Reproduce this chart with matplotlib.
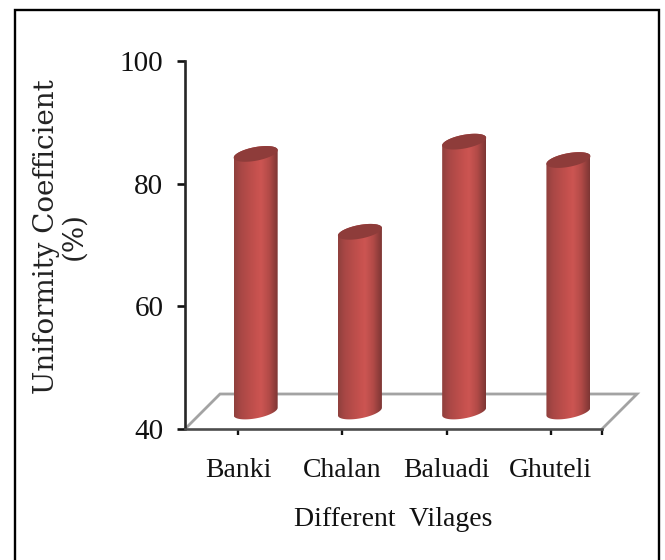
import numpy as np
import matplotlib
matplotlib.use("Agg")
import matplotlib.pyplot as plt
from matplotlib.colors import LinearSegmentedColormap
from matplotlib.patches import Polygon, Rectangle

villages = ["Banki", "Chalan", "Baluadi", "Ghuteli"]
uniformity = [82, 69.3, 84, 81]
y_ticks = [40, 60, 80, 100]

plt.rcParams["font.family"] = ["Liberation Serif", "DejaVu Serif"]

W, H = 665, 560
fig = plt.figure(figsize=(W / 100, H / 100), dpi=100, facecolor="white")
ax = fig.add_axes([185 / W, 1 - 429 / H, 417 / W, 368 / H])
ax.set_facecolor("none")

x_min, x_max = -0.51, 3.49
y_min, y_max = 40, 100
ax.set_xlim(x_min, x_max)
ax.set_ylim(y_min, y_max)
ax.autoscale(False)

# Pixel scale of the axes, used to keep the cylinders round on screen
px_x = 417 / (x_max - x_min)
px_y = 368 / (y_max - y_min)
depth_x = 17.5 / px_x
depth_y = 17.5 / px_y
half_w = 22 / px_x
ell_b = 6.9 / px_y
ell_tilt = 3.8 / px_y

shade = LinearSegmentedColormap.from_list(
    "cyl", [(0, "#8f403d"), (0.15, "#a84745"), (0.5, "#c6514e"), (0.62, "#cc5552"),
            (0.8, "#b34b48"), (1, "#7d3634")])
ramp = np.linspace(0, 1, 128).reshape(1, -1)


def ellipse_pts(cx, cy, t):
    return np.column_stack([cx + half_w * np.cos(t), cy + ell_b * np.sin(t) + ell_tilt * np.cos(t)])


def draw_cylinder(pos, value):
    cx = pos + depth_x
    base = y_min + depth_y
    top = value + depth_y
    lower = ellipse_pts(cx, base, np.linspace(np.pi, 2 * np.pi, 60))
    upper = ellipse_pts(cx, top, np.linspace(0, np.pi, 60))
    body = Polygon(np.vstack([lower, upper]), closed=True, transform=ax.transData, fc="none", ec="none")
    ax.add_patch(body)
    im = ax.imshow(ramp, cmap=shade, aspect="auto", interpolation="bilinear", zorder=3,
                   extent=[cx - half_w, cx + half_w, base - 2 * ell_b, top + 2 * ell_b])
    im.set_clip_path(body)
    cap = ellipse_pts(cx, top, np.linspace(0, 2 * np.pi, 120))
    ax.add_patch(Polygon(cap, closed=True, fc="#8e3c3a", ec="none", zorder=4))


# Floor of the 3D box
floor_x = [x_min, x_min + 2 * depth_x, x_max + 2 * depth_x, x_max]
floor_y = [y_min, y_min + 2 * depth_y, y_min + 2 * depth_y, y_min]
ax.plot(floor_x, floor_y, color="#a3a3a3", lw=2, clip_on=False, zorder=1, solid_joinstyle="miter")

for i, v in enumerate(uniformity):
    draw_cylinder(i, v)

ax.spines["top"].set_visible(False)
ax.spines["right"].set_visible(False)
ax.spines["left"].set_color("#262626")
ax.spines["bottom"].set_color("#4d4d4d")
ax.spines["left"].set_linewidth(1.9)
ax.spines["bottom"].set_linewidth(1.9)

ax.set_yticks(y_ticks)
ax.set_xticks(range(len(villages)))
ax.set_xticklabels(villages)
ax.set_xticks([x_max], minor=True)
ax.tick_params(axis="y", which="major", length=5.5, width=1.9, color="#111111", labelsize=21, pad=10,
               labelcolor="#111111")
ax.tick_params(axis="x", which="both", length=4, width=1.7, color="#111111", labelsize=20, pad=17,
               labelcolor="#111111")

ax.set_xlabel("Different  Vilages", fontsize=20, color="#111111", labelpad=17)
ax.set_ylabel("Uniformity Coefficient\n(%)", fontsize=20, color="#222222", linespacing=1.0,
              family=["DejaVu Serif"])
ax.yaxis.set_label_coords(-0.234, 0.524)

# Black border round the whole figure, running off the lower edge
fig.add_artist(Rectangle((14.5 / W, -0.02), (659 - 14.5) / W, 1.02 - 9.5 / H, transform=fig.transFigure,
                         fc="none", ec="black", lw=1.7))

fig.savefig("out.png", dpi=100)
